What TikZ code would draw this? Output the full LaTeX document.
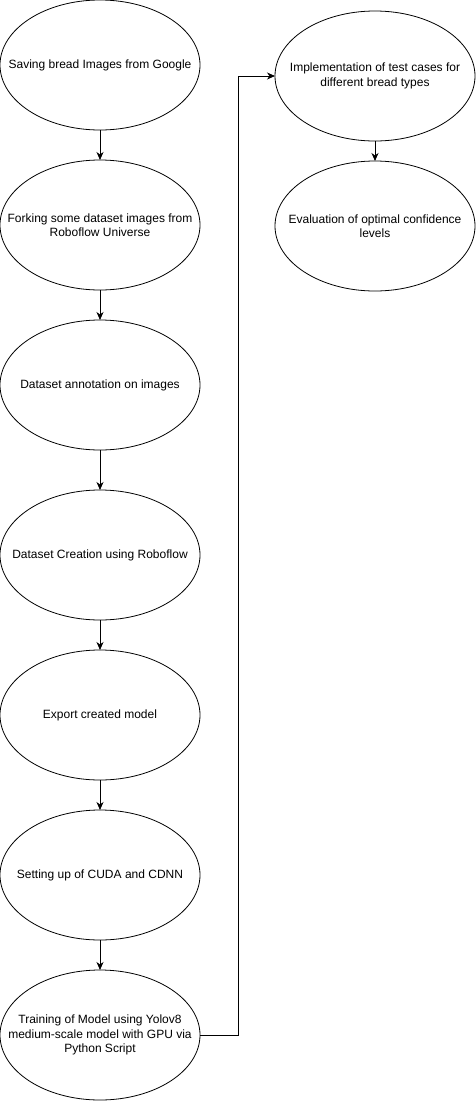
\documentclass[tikz,border=0pt]{standalone}
\usepackage{fontspec}
\setmainfont{Liberation Sans}
\usetikzlibrary{shapes.geometric,arrows.meta}
\begin{document}
\begin{tikzpicture}[x=1pt,y=-1pt,
  stage/.style={ellipse,draw=black,line width=0.8pt,minimum width=200pt,minimum height=130pt,inner sep=0pt,outer sep=0pt},
  txt/.style={align=center,inner sep=0pt,font=\fontsize{12pt}{14.5pt}\selectfont},
  arr/.style={line width=0.8pt,-{Stealth[length=8pt,width=7pt,inset=2.5pt]}}]
\useasboundingbox (0,0) rectangle (476,1101);
\node[stage] (e1) at (100,65) {};
\node[stage] (e2) at (100,225) {};
\node[stage] (e3) at (100,385) {};
\node[stage] (e4) at (100,555) {};
\node[stage] (e5) at (100,715) {};
\node[stage] (e6) at (100,875) {};
\node[stage] (e7) at (100,1035) {};
\node[stage] (r1) at (375,76) {};
\node[stage] (r2) at (375,226) {};
\node[txt] (t1) at (e1) {Saving bread Images from Google};
\node[txt] (t2) at (e2) {Forking some dataset images from\\Roboflow Universe};
\node[txt] (t3) at (e3) {Dataset annotation on images};
\node[txt] (t4) at (e4) {Dataset Creation using Roboflow};
\node[txt] (t5) at (e5) {Export created model};
\node[txt] (t6) at (e6) {Setting up of CUDA and CDNN};
\node[txt] (t7) at (e7) {Training of Model using Yolov8\\medium-scale model with GPU via\\Python Script};
\node[txt] (s1) at (r1) {Implementation of test cases for\\different bread types};
\node[txt] (s2) at (r2) {Evaluation of optimal confidence\\levels};
\coordinate (bend) at (238,1035);
\draw[arr] (e1) -- (e2);
\draw[arr] (e2) -- (e3);
\draw[arr] (e3) -- (e4);
\draw[arr] (e4) -- (e5);
\draw[arr] (e5) -- (e6);
\draw[arr] (e6) -- (e7);
\draw[arr] (e7.east) -- (bend) |- (r1.west);
\draw[arr] (r1) -- (r2);
\end{tikzpicture}
\end{document}
